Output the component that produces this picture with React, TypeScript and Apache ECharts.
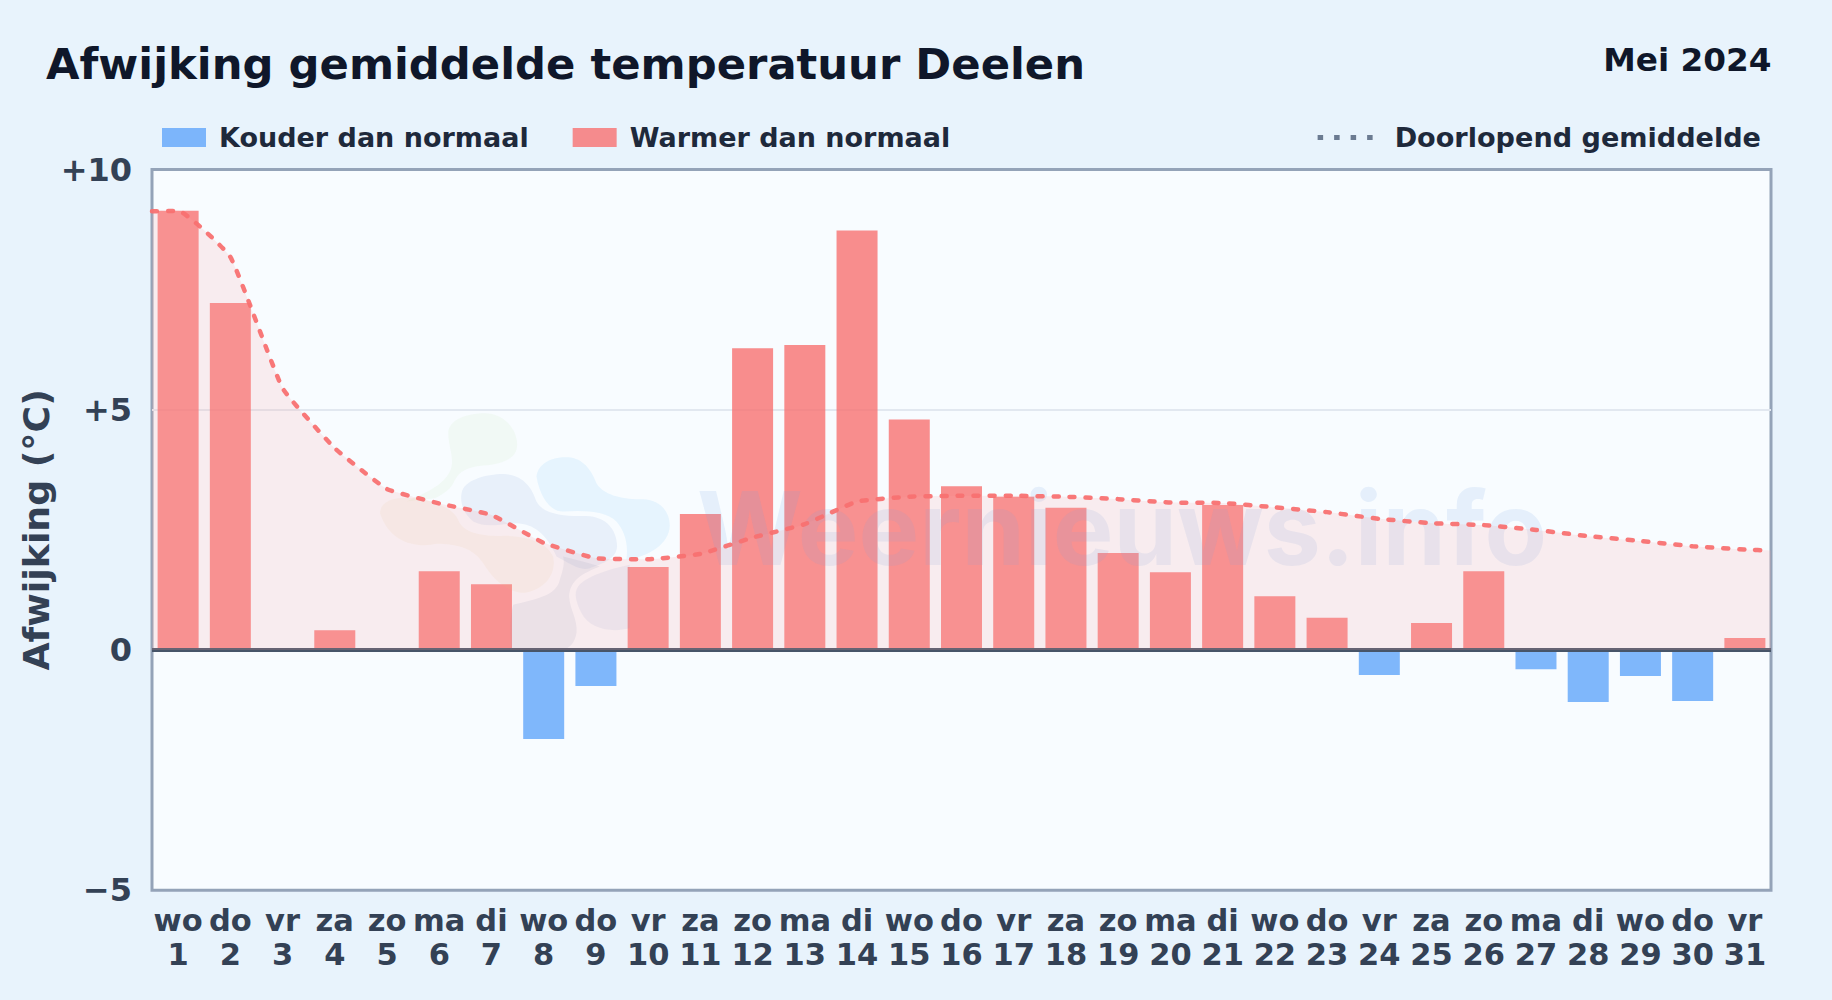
import React, { useEffect, useRef } from "react";
import * as echarts from "echarts";

const weekdays = ["wo","do","vr","za","zo","ma","di","wo","do","vr","za","zo","ma","di","wo","do","vr","za","zo","ma","di","wo","do","vr","za","zo","ma","di","wo","do","vr"];
const deviations = [9.14,7.22,0,0.41,0,1.64,1.37,-1.85,-0.75,1.73,2.83,6.28,6.35,8.73,4.8,3.41,3.19,2.96,2.02,1.62,3.02,1.12,0.67,-0.52,0.56,1.64,-0.40,-1.08,-0.54,-1.06,0.25];
const runningMean = [9.14,8.18,5.45,4.2,3.35,3.05,2.81,2.23,1.91,1.89,2.0,2.34,2.62,3.09,3.19,3.21,3.21,3.19,3.14,3.07,3.06,2.97,2.87,2.73,2.64,2.6,2.5,2.37,2.27,2.16,2.09];
const runningStart = 9.13;
const runningEnd = 2.07;
const yTicks: Record<string, string> = { "10": "+10", "5": "+5", "0": "0", "-5": "\u22125" };

const FONT = "DejaVu Sans";

const blobs: { d: string; fill: string }[] = [
  { d: "M265 100C265 60 320 40 375 40C430 40 472 85 472 135C472 175 430 192 370 197C320 202 300 215 285 240C275 265 255 280 225 295L140 305C190 280 250 260 272 210C285 175 265 140 265 100Z", fill: "rgba(190,225,160,0.11)" },
  { d: "M60 340C62 300 110 290 160 295C220 300 280 325 295 360C310 400 370 410 440 408C500 410 560 425 580 470C590 520 560 565 500 578C450 585 400 540 370 490C340 445 290 432 230 432C170 445 90 430 60 340Z", fill: "rgba(240,200,130,0.10)" },
  { d: "M305 280C310 240 380 222 430 222C490 225 515 260 530 305C550 345 620 350 680 348C740 350 772 390 772 440C770 480 720 495 690 505C660 515 630 490 590 470C560 400 520 372 470 370C420 372 380 385 340 365C310 340 300 310 305 280Z", fill: "rgba(120,160,210,0.12)" },
  { d: "M655 560C680 530 740 510 810 495L810 685C760 700 690 690 665 640C650 610 640 580 655 560Z", fill: "rgba(120,140,200,0.10)" },
  { d: "M460 615C520 600 590 590 600 540C610 510 615 490 610 470C650 480 690 490 720 500C670 520 630 540 628 590C630 630 655 660 650 700C645 730 630 745 610 750L455 750C450 700 450 650 460 615Z", fill: "rgba(110,130,170,0.11)" },
  { d: "M530 230C535 190 575 170 625 172C670 175 695 210 710 250C730 285 790 300 850 298C905 300 932 340 930 380C928 430 870 470 800 480C805 440 800 400 770 365C740 335 680 330 610 335C570 335 540 290 530 230Z", fill: "rgba(130,200,250,0.15)" },
];

blobs.forEach((b, i) => {
  echarts.graphic.registerShape("blob" + i, echarts.graphic.extendPath(b.d as any, {}) as any);
});

export default function App() {
  const ref = useRef<HTMLDivElement>(null);
  useEffect(() => {
    document.body.style.margin = "0";
    const chart = echarts.init(ref.current!, null, { renderer: "svg" });
    const linePoints: [number, number][] = [[0, runningStart]];
    runningMean.forEach((v, i) => linePoints.push([i + 0.5, v]));
    linePoints.push([31, runningEnd]);
    chart.setOption({
      animation: false,
      backgroundColor: "#e8f3fc",
      title: [
        { text: "Afwijking gemiddelde temperatuur Deelen", left: 46, top: 42, padding: 0, textStyle: { fontFamily: FONT, fontWeight: "bold", fontSize: 43.3, color: "#0f172a" } },
        { text: "Mei 2024", right: 60.5, top: 43.5, padding: 0, textStyle: { fontFamily: FONT, fontWeight: "bold", fontSize: 32.7, color: "#0f172a" } },
      ],
      legend: [
        { data: ["Kouder dan normaal", "Warmer dan normaal"], left: 162, top: 124, padding: 0, icon: "rect", itemWidth: 44, itemHeight: 19, itemGap: 44, selectedMode: false, textStyle: { fontFamily: FONT, fontWeight: "bold", fontSize: 27, color: "#1e293b", padding: [0, 0, 0, 8] } },
        { data: [{ name: "Doorlopend gemiddelde", itemStyle: { opacity: 0 }, lineStyle: { color: "#64748b", type: [5.5, 11], width: 5, cap: "butt" } }], right: 71, top: 124, padding: 0, itemWidth: 55, itemHeight: 19, selectedMode: false, textStyle: { fontFamily: FONT, fontWeight: "bold", fontSize: 27.1, color: "#1e293b", padding: [0, 0, 0, 17] } },
      ],
      grid: { left: 152, top: 169.5, width: 1619, height: 720.8, show: true, backgroundColor: "#f8fcff", borderColor: "#94a3b8", borderWidth: 3, containLabel: false },
      xAxis: [
        {
          type: "category",
          data: weekdays.map((d, i) => d + "\n" + (i + 1)),
          axisLine: { show: false },
          axisTick: { show: false },
          axisLabel: { interval: 0, margin: 13, fontFamily: FONT, fontWeight: "bold", fontSize: 30.5, color: "#334155", lineHeight: 34, hideOverlap: false },
        },
        { type: "value", min: 0, max: 31, show: false },
      ],
      yAxis: {
        type: "value",
        min: -5,
        max: 10,
        interval: 5,
        name: "Afwijking (\u00B0C)",
        nameLocation: "middle",
        nameGap: 98,
        nameMoveOverlap: false,
        nameTextStyle: { fontFamily: FONT, fontWeight: "bold", fontSize: 36.3, color: "#334155" },
        axisLine: { show: false },
        axisTick: { show: false },
        axisLabel: { margin: 20, fontFamily: FONT, fontWeight: "bold", fontSize: 32, color: "#334155", formatter: (v: number) => yTicks[String(v)] },
        splitLine: { showMinLine: false, showMaxLine: false, lineStyle: { color: "#e2e8f0", width: 2 } },
      },
      graphic: [
        ...blobs.map((b, i) => ({ type: "blob" + i, x: 360, y: 400, scaleX: 1 / 3, scaleY: 1 / 3, z: 3, silent: true, style: { fill: b.fill } })),
        { type: "text", x: 697, y: 579, z: 3, silent: true, style: { text: "Weernieuws.info", fontFamily: "Inter", fontWeight: 700, fontSize: 102, fill: "rgba(110,165,225,0.14)", textVerticalAlign: "bottom", verticalAlign: "alphabetic" } },
      ],
      series: [
        {
          name: "Doorlopend gemiddelde",
          type: "line",
          xAxisIndex: 1,
          yAxisIndex: 0,
          data: linePoints,
          symbol: "none",
          smooth: 0.12,
          z: 5,
          lineStyle: { color: "#f87171", width: 4.5, type: [5, 11], cap: "round", opacity: 0.95 },
          itemStyle: { color: "#f87171" },
          areaStyle: { color: "rgba(252,165,165,0.25)", origin: 0 },
        },
        {
          name: "Kouder dan normaal",
          type: "bar",
          stack: "dev",
          barWidth: 41,
          z: 2,
          itemStyle: { color: "rgba(96,165,250,0.8)" },
          data: deviations.map((v) => (v < 0 ? v : null)),
          markLine: { silent: true, symbol: "none", z: 4, label: { show: false }, lineStyle: { color: "#475569", width: 4, type: "solid" }, data: [{ yAxis: 0 }] },
        },
        {
          name: "Warmer dan normaal",
          type: "bar",
          stack: "dev",
          barWidth: 41,
          z: 2,
          itemStyle: { color: "rgba(248,113,113,0.8)" },
          data: deviations.map((v) => (v >= 0 ? v : null)),
        },
      ],
    });
    return () => chart.dispose();
  }, []);
  return <div ref={ref} style={{ width: 1832, height: 1000 }} />;
}
